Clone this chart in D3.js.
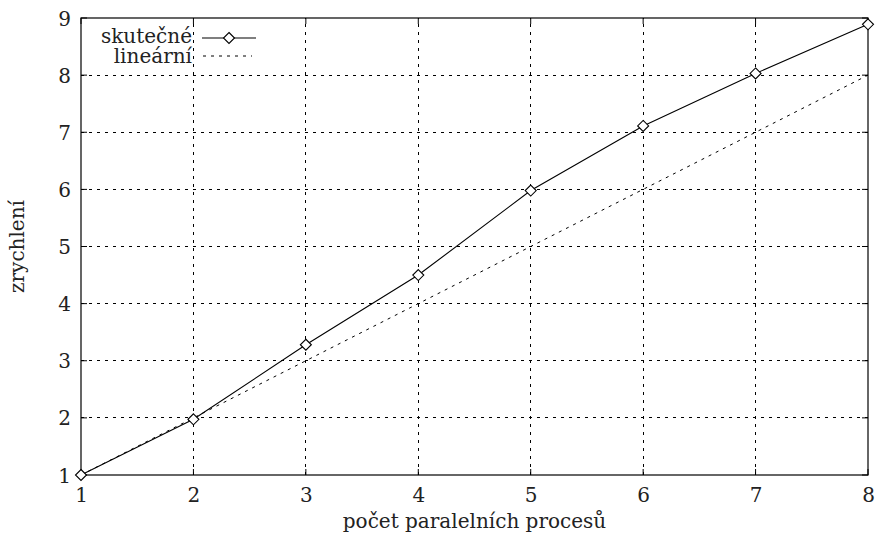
<!DOCTYPE html>
<html><head><meta charset="utf-8">
<script src="https://cdn.jsdelivr.net/npm/d3@7"></script>
<style>
html,body{margin:0;padding:0;background:#fff;}
text{font-family:"DejaVu Serif","Liberation Serif",serif;fill:#222;}
</style></head>
<body><svg id="c" width="881" height="535"></svg>
<script>
const processes = [1, 2, 3, 4, 5, 6, 7, 8];
const actualSpeedup = [1.0, 1.975, 3.28, 4.5, 5.98, 7.11, 8.03, 8.89];
const linearSpeedup = [1, 2, 3, 4, 5, 6, 7, 8];
const xTicks = [1, 2, 3, 4, 5, 6, 7, 8];
const yTicks = [1, 2, 3, 4, 5, 6, 7, 8, 9];
const labels = {x: "počet paralelních procesů", y: "zrychlení", actual: "skutečné", linear: "lineární"};

const svg = d3.select("#c");
const L = 81, R = 868, T = 18, B = 475;
const x = d3.scaleLinear().domain([1, 8]).range([L, R]);
const y = d3.scaleLinear().domain([1, 9]).range([B, T]);
const fs = 20;

// grid
const g = svg.append("g");
g.selectAll(".gx").data(xTicks.slice(1, -1)).join("line")
  .attr("x1", d => x(d)).attr("x2", d => x(d)).attr("y1", B).attr("y2", T)
  .attr("stroke", "#000").attr("stroke-width", 1).attr("stroke-dasharray", "3,5").attr("shape-rendering","crispEdges");
g.selectAll(".gy").data(yTicks.slice(1, -1)).join("line")
  .attr("y1", d => y(d)).attr("y2", d => y(d)).attr("x1", L).attr("x2", R)
  .attr("stroke", "#000").attr("stroke-width", 1).attr("stroke-dasharray", "3,5").attr("shape-rendering","crispEdges");

// axes via d3
const ax = svg.append("g").attr("transform", `translate(0,${B})`)
  .call(d3.axisBottom(x).tickValues(xTicks).tickSize(0).tickPadding(12).tickFormat(d3.format("d")));
const ay = svg.append("g").attr("transform", `translate(${L},0)`)
  .call(d3.axisLeft(y).tickValues(yTicks).tickSize(0).tickPadding(10).tickFormat(d3.format("d")));
[ax, ay].forEach(a => { a.select(".domain").remove(); a.selectAll("text").attr("font-size", fs).attr("font-family", "DejaVu Serif, serif").style("fill","#222"); });
ax.selectAll("text").attr("dy", "0.75em");
ay.selectAll("text").attr("dy", "0.35em");

// inner ticks (mirror)
const tk = 6;
xTicks.forEach(v => {
  svg.append("line").attr("x1", x(v)).attr("x2", x(v)).attr("y1", B).attr("y2", B - tk).attr("stroke", "#000");
  svg.append("line").attr("x1", x(v)).attr("x2", x(v)).attr("y1", T).attr("y2", T + tk).attr("stroke", "#000");
});
yTicks.forEach(v => {
  svg.append("line").attr("y1", y(v)).attr("y2", y(v)).attr("x1", L).attr("x2", L + tk).attr("stroke", "#000");
  svg.append("line").attr("y1", y(v)).attr("y2", y(v)).attr("x1", R).attr("x2", R - tk).attr("stroke", "#000");
});

// border
svg.append("rect").attr("x", L).attr("y", T).attr("width", R - L).attr("height", B - T)
  .attr("fill", "none").attr("stroke", "#000").attr("stroke-width", 1.2);

// linear
const line = d3.line().x((d, i) => x(processes[i])).y(d => y(d));
svg.append("path").attr("d", line(linearSpeedup)).attr("fill", "none")
  .attr("stroke", "#000").attr("stroke-width", 1).attr("stroke-dasharray", "3,5");
// actual
svg.append("path").attr("d", line(actualSpeedup)).attr("fill", "none")
  .attr("stroke", "#000").attr("stroke-width", 1.1);
const diamond = (cx, cy, r) => `M${cx},${cy - r}L${cx + r},${cy}L${cx},${cy + r}L${cx - r},${cy}Z`;
svg.selectAll(".pt").data(actualSpeedup).join("path")
  .attr("d", (d, i) => diamond(x(processes[i]), y(d), 5.5))
  .attr("fill", "#fff").attr("stroke", "#000").attr("stroke-width", 1.1);

// legend
svg.append("text").attr("x", 192).attr("y", 43).attr("text-anchor", "end").attr("font-size", fs).text(labels.actual);
svg.append("line").attr("x1", 202).attr("x2", 256).attr("y1", 38).attr("y2", 38).attr("stroke", "#000").attr("stroke-width", 1.1);
svg.append("path").attr("d", diamond(229, 38, 5.5)).attr("fill", "#fff").attr("stroke", "#000").attr("stroke-width", 1.1);
svg.append("text").attr("x", 192).attr("y", 63).attr("text-anchor", "end").attr("font-size", fs).text(labels.linear);
svg.append("line").attr("x1", 203).attr("x2", 252).attr("y1", 56).attr("y2", 56).attr("stroke", "#000").attr("stroke-dasharray", "3,5");

// axis titles
svg.append("text").attr("x", (L + R) / 2).attr("y", 528).attr("text-anchor", "middle").attr("font-size", fs).text(labels.x);
svg.append("text").attr("transform", `translate(24,${(T + B) / 2}) rotate(-90)`).attr("text-anchor", "middle").attr("font-size", fs).text(labels.y);
</script></body></html>
